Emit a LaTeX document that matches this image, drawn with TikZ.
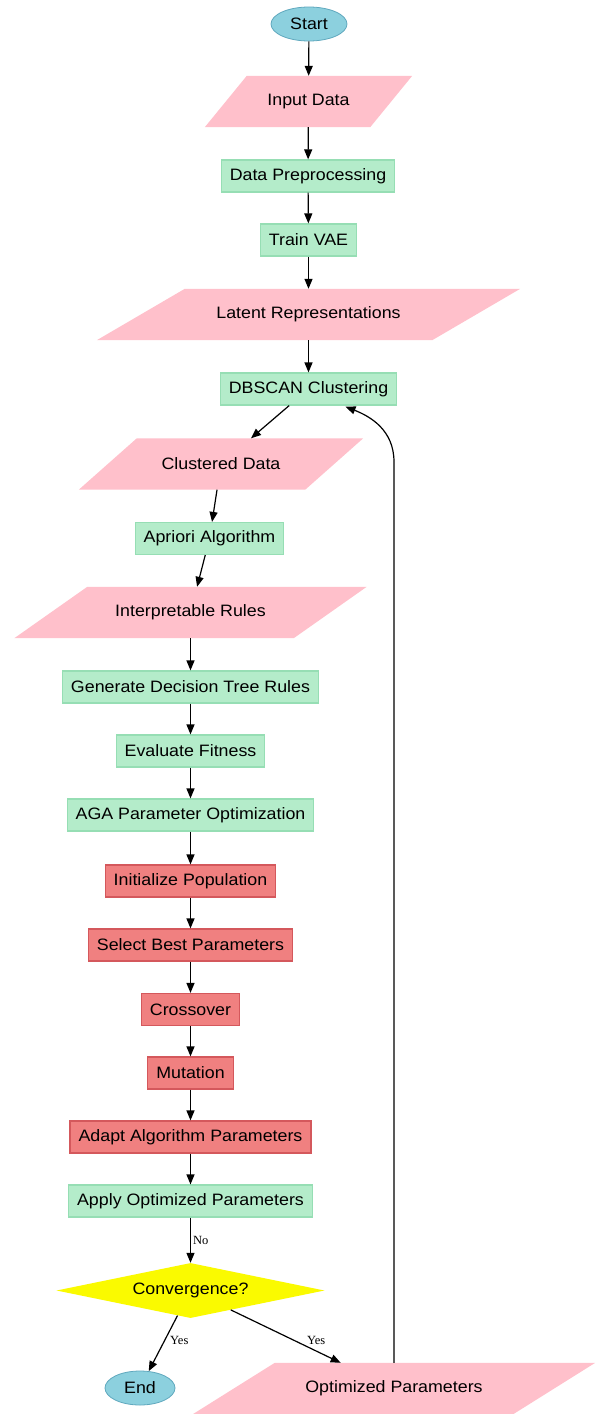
\documentclass[tikz,border=0pt]{standalone}
\usepackage{fontspec}
\usetikzlibrary{shapes.geometric,arrows.meta,calc,backgrounds}
\newfontfamily\boxfont{Liberation Sans}[FakeStretch=1.08]
\newfontfamily\lblfont{Liberation Serif}
\definecolor{gfill}{RGB}{180,236,202}
\definecolor{gdraw}{RGB}{150,222,180}
\definecolor{rfill}{RGB}{240,128,128}
\definecolor{rdraw}{RGB}{212,88,92}
\definecolor{pfill}{RGB}{255,192,203}
\definecolor{efill}{RGB}{140,208,222}
\definecolor{edraw}{RGB}{95,168,190}
\definecolor{yfill}{RGB}{250,250,0}
\tikzset{
  txt/.style={font=\boxfont\fontsize{16.5}{19}\selectfont, text=black},
  gbox/.style={txt, rectangle, fill=gfill, draw=gdraw, line width=1.2pt, inner xsep=8.5pt, inner ysep=0pt, minimum height=32pt},
  rbox/.style={txt, rectangle, fill=rfill, draw=rdraw, line width=1.2pt, inner xsep=8.5pt, inner ysep=0pt, minimum height=32pt},
  parabox/.style={txt, rectangle, inner sep=0pt, minimum height=51pt},
  term/.style={txt, ellipse, fill=efill, draw=edraw, line width=0.8pt, inner sep=0pt, minimum height=34pt},
  decis/.style={txt, diamond, aspect=4.9, fill=yfill, inner sep=0pt, minimum width=268pt, minimum height=55pt},
  conn/.style={-{Triangle[length=10pt,width=8pt]}, line width=1.2pt, black},
  elbl/.style={font=\lblfont\fontsize{12.5}{14}\selectfont, inner sep=2pt}
}
\newcommand\parabg[2]{%
  \begin{scope}[on background layer]
    \fill[pfill] ($(#1.north west)+(#2/2,0)$) -- ($(#1.north east)+(#2/2,0)$) -- ($(#1.south east)-(#2/2,0)$) -- ($(#1.south west)-(#2/2,0)$) -- cycle;
  \end{scope}}
\begin{document}
\begin{tikzpicture}[x=1pt,y=-1pt]
\useasboundingbox (0,0) rectangle (598,1414);
\clip (0,0) rectangle (598,1414);
\begin{scope}[on background layer]
\fill[white] (0,0) rectangle (598,1414);
\end{scope}

\node[term, minimum width=76pt] (start) at (309,24) {Start};
\node[parabox, minimum width=165pt] (input) at (308.5,101.5) {Input Data};
\parabg{input}{42}
\node[gbox] (prep) at (308,176) {Data Preprocessing};
\node[gbox] (vae) at (308.5,240) {Train VAE};
\node[parabox, minimum width=335pt] (latent) at (308.5,314.5) {Latent Representations};
\parabg{latent}{88}
\node[gbox] (db) at (308.5,389) {DBSCAN Clustering};
\node[parabox, minimum width=226pt] (clus) at (221,464) {Clustered Data};
\parabg{clus}{58}
\node[gbox] (apr) at (209.5,538.5) {Apriori Algorithm};
\node[parabox, minimum width=279pt] (interp) at (190.5,612.5) {Interpretable Rules};
\parabg{interp}{73}
\node[gbox] (gen) at (190.5,687) {Generate Decision Tree Rules};
\node[gbox] (eval) at (190.5,751) {Evaluate Fitness};
\node[gbox] (aga) at (190.5,815) {AGA Parameter Optimization};
\node[rbox] (init) at (190.5,881) {Initialize Population};
\node[rbox] (sel) at (190.5,945) {Select Best Parameters};
\node[rbox] (cross) at (190.5,1009.5) {Crossover};
\node[rbox] (mut) at (190.5,1073) {Mutation};
\node[rbox] (adapt) at (190.5,1137) {Adapt Algorithm Parameters};
\node[gbox] (apply) at (190.5,1201) {Apply Optimized Parameters};
\node[decis] (conv) at (190.5,1290.5) {Convergence?};
\node[term, minimum width=70pt] (end) at (140,1388) {End};
\node[parabox, minimum width=320pt] (opt) at (394,1388.5) {Optimized Parameters};
\parabg{opt}{82}

\draw[conn] (start) -- (input);
\draw[conn] (input) -- (prep);
\draw[conn] (prep) -- (vae);
\draw[conn] (vae) -- (latent);
\draw[conn] (latent) -- (db);
\draw[conn] (db) -- (clus);
\draw[conn] (clus) -- (apr);
\draw[conn] (apr) -- (interp);
\draw[conn] (interp) -- (gen);
\draw[conn] (gen) -- (eval);
\draw[conn] (eval) -- (aga);
\draw[conn] (aga) -- (init);
\draw[conn] (init) -- (sel);
\draw[conn] (sel) -- (cross);
\draw[conn] (cross) -- (mut);
\draw[conn] (mut) -- (adapt);
\draw[conn] (adapt) -- (apply);
\draw[conn] (apply) -- node[elbl, anchor=west, pos=0.5] {No} (conv);
\draw[conn] (conv) -- node[elbl, anchor=west, pos=0.45, xshift=3pt] {Yes} (end);
\draw[conn] (conv) -- node[elbl, anchor=west, pos=0.57, xshift=11pt] {Yes} (opt);
\coordinate (loopend) at ($(db.south)+(37,1)$);
\draw[conn] (opt.north) -- ($(opt.north |- 0,462)$) .. controls ($(opt.north |- 0,430)$) and ($(loopend)+(25,10)$) .. (loopend);
\end{tikzpicture}
\end{document}
